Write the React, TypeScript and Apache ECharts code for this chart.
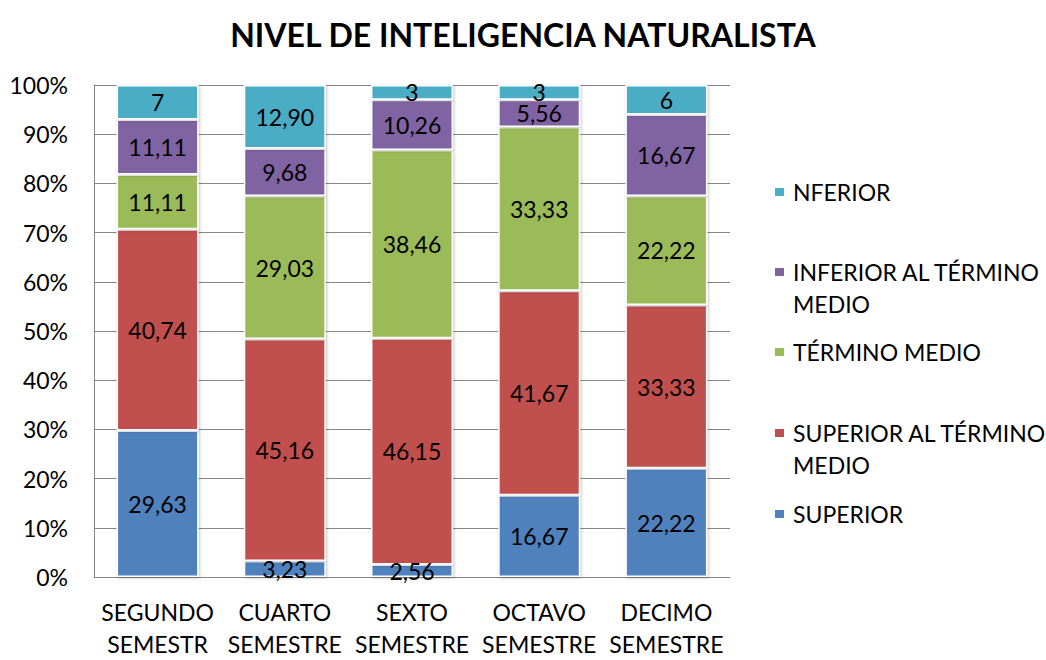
import React, { useEffect, useRef } from "react";
import * as echarts from "echarts";

const categories = ["SEGUNDO\nSEMESTR", "CUARTO\nSEMESTRE", "SEXTO\nSEMESTRE", "OCTAVO\nSEMESTRE", "DECIMO\nSEMESTRE"];
const seriesNames = ["SUPERIOR", "SUPERIOR AL TÉRMINO MEDIO", "TÉRMINO MEDIO", "INFERIOR AL TÉRMINO MEDIO", "NFERIOR"];
const superior = [29.63, 3.23, 2.56, 16.67, 22.22];
const superiorAlTermino = [40.74, 45.16, 46.15, 41.67, 33.33];
const terminoMedio = [11.11, 29.03, 38.46, 33.33, 22.22];
const inferiorAlTermino = [11.11, 9.68, 10.26, 5.56, 16.67];
const nferior = [7, 12.9, 3, 3, 6];
const yTicks = ["0%", "10%", "20%", "30%", "40%", "50%", "60%", "70%", "80%", "90%", "100%"];

const colors = ["#4F81BD", "#C0504D", "#9BBB59", "#8064A2", "#4BACC6"];
const FONT = "Lato, 'Open Sans', sans-serif";

export default function App() {
  const ref = useRef<HTMLDivElement>(null);
  useEffect(() => {
    document.body.style.margin = "0";
    if (!ref.current) return;
    const chart = echarts.init(ref.current, null, { renderer: "svg" });
    const raw = [superior, superiorAlTermino, terminoMedio, inferiorAlTermino, nferior];
    const totals = categories.map((_, i) => raw.reduce((s, arr) => s + arr[i], 0));
    const fmt = (v: number) => (Number.isInteger(v) ? String(v) : v.toFixed(2).replace(".", ","));

    const series = raw.map((arr, si) => ({
      name: seriesNames[si],
      type: "bar",
      stack: "total",
      barWidth: "64.5%",
      data: arr.map((v, i) => (v / totals[i]) * 100),
      itemStyle: {
        color: colors[si],
        borderColor: "#ffffff",
        borderWidth: 1.5,
        shadowBlur: 3,
        shadowColor: "rgba(0,0,0,0.25)",
        shadowOffsetX: 1,
        shadowOffsetY: 1,
      },
      label: {
        show: true,
        position: "inside",
        color: "#000",
        fontFamily: FONT,
        fontSize: 23,
        formatter: (p: any) => fmt(arr[p.dataIndex]),
      },
    }));

    const wrap: Record<string, string> = {
      "INFERIOR AL TÉRMINO MEDIO": " \nINFERIOR AL TÉRMINO\nMEDIO",
      "SUPERIOR AL TÉRMINO MEDIO": " \nSUPERIOR AL TÉRMINO\nMEDIO",
    };
    const legendTops: Record<string, number> = {
      NFERIOR: 176,
      "INFERIOR AL TÉRMINO MEDIO": 224,
      "TÉRMINO MEDIO": 336,
      "SUPERIOR AL TÉRMINO MEDIO": 385,
      SUPERIOR: 498,
    };
    const legends = seriesNames.map((n) => ({
      show: true,
      orient: "vertical",
      left: 773,
      top: legendTops[n],
      padding: 0,
      itemWidth: 11,
      itemHeight: 10,
      icon: "rect",
      data: [n],
      textStyle: {
        fontFamily: FONT,
        fontSize: 23,
        color: "#000",
        lineHeight: 32,
        padding: [0, 0, 0, 3],
      },
      formatter: (name: string) => wrap[name] || name,
      selectedMode: false,
    }));

    chart.setOption({
      animation: false,
      title: {
        text: "NIVEL DE INTELIGENCIA NATURALISTA",
        left: "center",
        top: 13,
        textStyle: { fontFamily: FONT, fontSize: 32, fontWeight: "bold", color: "#000" },
      },
      legend: legends,
      grid: { left: 94, right: 316, top: 85, bottom: 78, containLabel: false },
      xAxis: {
        type: "category",
        data: categories,
        axisLine: { show: true, lineStyle: { color: "#868686", width: 1 } },
        axisTick: { show: false },
        axisLabel: {
          interval: 0,
          color: "#000",
          fontFamily: FONT,
          fontSize: 23,
          lineHeight: 32,
          margin: 19,
        },
      },
      yAxis: {
        type: "value",
        min: 0,
        max: 100,
        interval: 10,
        axisLine: { show: true, lineStyle: { color: "#868686", width: 1 } },
        axisTick: { show: false },
        splitLine: { show: true, lineStyle: { color: "#868686", width: 1 } },
        axisLabel: {
          color: "#000",
          fontFamily: FONT,
          fontSize: 23,
          margin: 26,
          formatter: (v: number) => yTicks[Math.round(v / 10)],
        },
      },
      series,
    });
    return () => chart.dispose();
  }, []);
  return <div ref={ref} style={{ width: 1046, height: 660 }} />;
}
